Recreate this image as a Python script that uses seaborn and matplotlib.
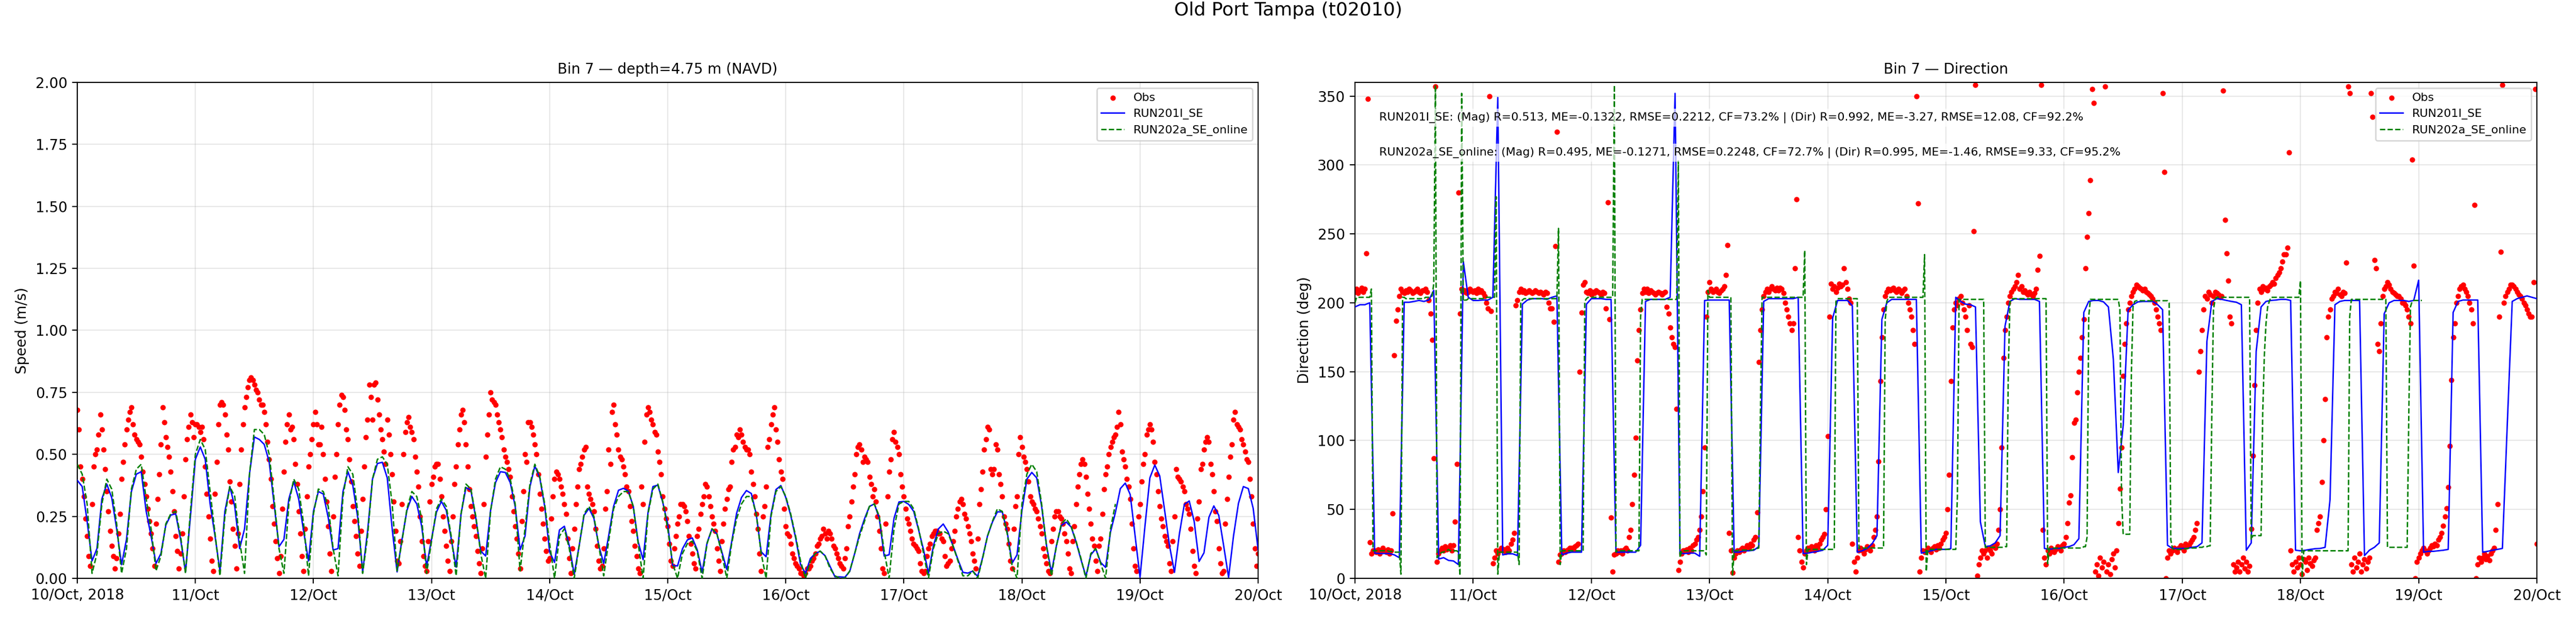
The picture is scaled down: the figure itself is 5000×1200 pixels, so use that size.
import numpy as np
import pandas as pd
import matplotlib
matplotlib.use("Agg")
import matplotlib.pyplot as plt
import seaborn as sns

# ---------------- data ----------------
START = "2018-10-10 00:00"
TICK_LABELS = ["10/Oct, 2018", "11/Oct", "12/Oct", "13/Oct", "14/Oct", "15/Oct",
               "16/Oct", "17/Oct", "18/Oct", "19/Oct", "20/Oct"]

# observed speed (m/s), every 20 minutes
OBS_SPEED = [
    0.68, 0.60, 0.45, 0.40, 0.33, 0.24, 0.17, 0.09, 0.05, 0.30,
    0.45, 0.50, 0.52, 0.58, 0.66, 0.60, 0.52, 0.44, 0.35, 0.27,
    0.19, 0.13, 0.09, 0.04, 0.08, 0.18, 0.26, 0.40, 0.47, 0.54,
    0.60, 0.64, 0.67, 0.69, 0.62, 0.58, 0.56, 0.55, 0.54, 0.49,
    0.43, 0.38, 0.33, 0.28, 0.23, 0.18, 0.12, 0.05, 0.22, 0.32,
    0.42, 0.54, 0.69, 0.63, 0.57, 0.53, 0.49, 0.43, 0.35, 0.27,
    0.17, 0.11, 0.04, 0.10, 0.18, 0.33, 0.48, 0.56, 0.61, 0.66,
    0.63, 0.57, 0.62, 0.62, 0.61, 0.59, 0.61, 0.56, 0.45, 0.34,
    0.25, 0.16, 0.07, 0.03, 0.34, 0.47, 0.62, 0.70, 0.71, 0.70,
    0.66, 0.58, 0.52, 0.39, 0.31, 0.20, 0.13, 0.04, 0.18, 0.38,
    0.52, 0.62, 0.69, 0.73, 0.77, 0.80, 0.81, 0.80, 0.78, 0.76,
    0.75, 0.72, 0.70, 0.70, 0.67, 0.62, 0.55, 0.48, 0.40, 0.29,
    0.22, 0.15, 0.08, 0.02, 0.09, 0.28, 0.43, 0.55, 0.62, 0.66,
    0.60, 0.61, 0.56, 0.46, 0.38, 0.27, 0.18, 0.09, 0.03, 0.20,
    0.33, 0.45, 0.50, 0.56, 0.62, 0.67, 0.62, 0.54, 0.54, 0.61,
    0.50, 0.40, 0.31, 0.21, 0.10, 0.03, 0.25, 0.41, 0.50, 0.62,
    0.70, 0.74, 0.73, 0.68, 0.60, 0.56, 0.48, 0.39, 0.29, 0.23,
    0.17, 0.10, 0.05, 0.19, 0.32, 0.45, 0.57, 0.64, 0.78, 0.73,
    0.64, 0.78, 0.79, 0.72, 0.66, 0.60, 0.56, 0.51, 0.46, 0.64,
    0.58, 0.50, 0.42, 0.31, 0.19, 0.07, 0.06, 0.15, 0.30, 0.50,
    0.59, 0.63, 0.65, 0.61, 0.59, 0.56, 0.49, 0.43, 0.37, 0.25,
    0.15, 0.09, 0.05, 0.03, 0.15, 0.31, 0.38, 0.41, 0.45, 0.46,
    0.46, 0.40, 0.33, 0.25, 0.19, 0.13, 0.07, 0.03, 0.15, 0.25,
    0.38, 0.45, 0.54, 0.60, 0.66, 0.68, 0.63, 0.54, 0.45, 0.36,
    0.29, 0.25, 0.21, 0.17, 0.11, 0.06, 0.02, 0.12, 0.30, 0.49,
    0.58, 0.66, 0.75, 0.72, 0.71, 0.70, 0.66, 0.63, 0.60, 0.57,
    0.52, 0.49, 0.47, 0.44, 0.41, 0.33, 0.27, 0.21, 0.16, 0.10,
    0.04, 0.23, 0.35, 0.50, 0.47, 0.63, 0.63, 0.61, 0.58, 0.54,
    0.50, 0.42, 0.34, 0.28, 0.22, 0.16, 0.11, 0.07, 0.08, 0.24,
    0.33, 0.40, 0.43, 0.42, 0.40, 0.37, 0.34, 0.30, 0.26, 0.16,
    0.08, 0.02, 0.12, 0.20, 0.30, 0.37, 0.44, 0.46, 0.49, 0.52,
    0.53, 0.37, 0.34, 0.32, 0.30, 0.27, 0.20, 0.13, 0.07, 0.04,
    0.05, 0.12, 0.28, 0.35, 0.52, 0.46, 0.67, 0.70, 0.62, 0.58,
    0.52, 0.49, 0.48, 0.45, 0.42, 0.37, 0.35, 0.29, 0.23, 0.19,
    0.13, 0.09, 0.04, 0.02, 0.37, 0.30, 0.55, 0.66, 0.69, 0.67,
    0.64, 0.62, 0.59, 0.58, 0.51, 0.47, 0.42, 0.33, 0.28, 0.24,
    0.21, 0.14, 0.07, 0.05, 0.12, 0.17, 0.22, 0.25, 0.30, 0.30,
    0.29, 0.27, 0.23, 0.17, 0.14, 0.10, 0.06, 0.04, 0.17, 0.20,
    0.26, 0.30, 0.33, 0.38, 0.37, 0.33, 0.29, 0.25, 0.22, 0.19,
    0.12, 0.07, 0.03, 0.15, 0.22, 0.28, 0.32, 0.36, 0.37, 0.47,
    0.52, 0.53, 0.58, 0.57, 0.60, 0.58, 0.55, 0.53, 0.52, 0.52,
    0.50, 0.43, 0.38, 0.33, 0.26, 0.20, 0.10, 0.03, 0.25, 0.29,
    0.37, 0.53, 0.56, 0.62, 0.66, 0.69, 0.60, 0.55, 0.48, 0.43,
    0.40, 0.28, 0.21, 0.18, 0.17, 0.14, 0.10, 0.08, 0.06, 0.05,
    0.04, 0.02, 0.02, 0.01, 0.02, 0.04, 0.04, 0.05, 0.07, 0.08,
    0.10, 0.13, 0.14, 0.16, 0.17, 0.20, 0.18, 0.16, 0.19, 0.18,
    0.16, 0.13, 0.12, 0.10, 0.08, 0.06, 0.05, 0.04, 0.08, 0.12,
    0.21, 0.25, 0.31, 0.37, 0.42, 0.50, 0.53, 0.54, 0.52, 0.47,
    0.49, 0.48, 0.47, 0.41, 0.38, 0.33, 0.36, 0.31, 0.25, 0.19,
    0.12, 0.04, 0.02, 0.22, 0.33, 0.43, 0.48, 0.56, 0.59, 0.55,
    0.53, 0.50, 0.42, 0.37, 0.33, 0.28, 0.24, 0.22, 0.19, 0.16,
    0.14, 0.13, 0.12, 0.11, 0.06, 0.03, 0.02, 0.03, 0.09, 0.12,
    0.14, 0.17, 0.18, 0.19, 0.19, 0.18, 0.18, 0.16, 0.15, 0.09,
    0.05, 0.06, 0.07, 0.12, 0.15, 0.19, 0.25, 0.28, 0.31, 0.32,
    0.30, 0.26, 0.24, 0.21, 0.18, 0.15, 0.10, 0.07, 0.04, 0.16,
    0.30, 0.36, 0.43, 0.52, 0.56, 0.61, 0.60, 0.44, 0.42, 0.44,
    0.54, 0.52, 0.42, 0.38, 0.33, 0.25, 0.22, 0.20, 0.14, 0.07,
    0.04, 0.20, 0.29, 0.33, 0.50, 0.57, 0.53, 0.49, 0.47, 0.44,
    0.39, 0.33, 0.31, 0.30, 0.28, 0.27, 0.24, 0.21, 0.18, 0.12,
    0.09, 0.06, 0.03, 0.02, 0.15, 0.20, 0.25, 0.27, 0.27, 0.25,
    0.24, 0.22, 0.18, 0.15, 0.10, 0.04, 0.02, 0.15, 0.21, 0.30,
    0.37, 0.42, 0.46, 0.48, 0.46, 0.41, 0.34, 0.28, 0.22, 0.16,
    0.13, 0.07, 0.03, 0.13, 0.16, 0.26, 0.36, 0.42, 0.45, 0.50,
    0.53, 0.55, 0.57, 0.58, 0.61, 0.67, 0.62, 0.51, 0.48, 0.45,
    0.40, 0.37, 0.32, 0.22, 0.12, 0.05, 0.03, 0.25, 0.30, 0.39,
    0.46, 0.50, 0.58, 0.60, 0.62, 0.60, 0.55, 0.47, 0.42, 0.35,
    0.29, 0.24, 0.21, 0.17, 0.15, 0.13, 0.06, 0.03, 0.15, 0.25,
    0.44, 0.41, 0.40, 0.39, 0.37, 0.35, 0.30, 0.28, 0.26, 0.20,
    0.11, 0.05, 0.02, 0.24, 0.31, 0.44, 0.46, 0.52, 0.55, 0.57,
    0.55, 0.46, 0.42, 0.35, 0.27, 0.23, 0.12, 0.06, 0.02, 0.03,
    0.22, 0.32, 0.41, 0.49, 0.54, 0.64, 0.67, 0.62, 0.61, 0.60,
    0.56, 0.54, 0.51, 0.48, 0.47, 0.40, 0.33, 0.22, 0.12, 0.05,
    0.10,
]

# RUN201I_SE speed (m/s), hourly
RUN201_SPEED = [
    0.395, 0.37, 0.23, 0.07, 0.12, 0.32, 0.38, 0.325, 0.20, 0.055,
    0.157, 0.35, 0.42, 0.43, 0.27, 0.17, 0.06, 0.10, 0.215, 0.255,
    0.26, 0.157, 0.026, 0.25, 0.48, 0.53, 0.48, 0.30, 0.17, 0.03,
    0.27, 0.37, 0.29, 0.12, 0.20, 0.42, 0.57, 0.56, 0.54, 0.47,
    0.30, 0.128, 0.157, 0.32, 0.39, 0.32, 0.19, 0.07, 0.27, 0.35,
    0.34, 0.245, 0.114, 0.12, 0.35, 0.43, 0.375, 0.245, 0.026, 0.19,
    0.40, 0.463, 0.468, 0.405, 0.20, 0.026, 0.157, 0.274, 0.33, 0.30,
    0.21, 0.048, 0.157, 0.267, 0.31, 0.274, 0.16, 0.045, 0.26, 0.366,
    0.355, 0.242, 0.11, 0.09, 0.274, 0.386, 0.43, 0.427, 0.386, 0.29,
    0.115, 0.17, 0.37, 0.453, 0.405, 0.29, 0.107, 0.064, 0.195, 0.21,
    0.131, 0.016, 0.131, 0.254, 0.282, 0.242, 0.131, 0.06, 0.171, 0.29,
    0.355, 0.363, 0.352, 0.29, 0.147, 0.075, 0.266, 0.37, 0.376, 0.306,
    0.219, 0.052, 0.05, 0.119, 0.155, 0.163, 0.115, 0.024, 0.143, 0.199,
    0.179, 0.107, 0.036, 0.147, 0.262, 0.326, 0.354, 0.342, 0.258, 0.107,
    0.087, 0.258, 0.358, 0.374, 0.326, 0.254, 0.163, 0.056, 0.02, 0.08,
    0.10, 0.109, 0.091, 0.048, 0.006, 0.006, 0.004, 0.028, 0.10, 0.18,
    0.24, 0.29, 0.30, 0.242, 0.09, 0.095, 0.242, 0.308, 0.31, 0.298,
    0.27, 0.195, 0.115, 0.02, 0.131, 0.199, 0.219, 0.187, 0.131, 0.075,
    0.024, 0.021, 0.029, 0.008, 0.083, 0.171, 0.227, 0.268, 0.268, 0.187,
    0.061, 0.095, 0.274, 0.40, 0.427, 0.405, 0.29, 0.131, 0.024, 0.131,
    0.213, 0.227, 0.207, 0.147, 0.075, 0.008, 0.095, 0.119, 0.064, 0.044,
    0.187, 0.266, 0.362, 0.384, 0.338, 0.171, 0.004, 0.21, 0.405, 0.457,
    0.413, 0.274, 0.131, 0.024, 0.179, 0.298, 0.312, 0.23, 0.068, 0.103,
    0.246, 0.292, 0.254, 0.131, 0.004, 0.171, 0.302, 0.37, 0.362, 0.282,
    0.115,
]

# RUN202a_SE_online speed (m/s), hourly (series ends on 18 Oct)
RUN202_SPEED = [
    0.46, 0.42, 0.30, 0.02, 0.10, 0.30, 0.40, 0.36, 0.22, 0.02,
    0.12, 0.36, 0.44, 0.46, 0.32, 0.20, 0.03, 0.09, 0.22, 0.26,
    0.27, 0.17, 0.02, 0.27, 0.50, 0.56, 0.52, 0.35, 0.18, 0.01,
    0.25, 0.37, 0.33, 0.15, 0.02, 0.42, 0.60, 0.60, 0.58, 0.50,
    0.32, 0.12, 0.02, 0.30, 0.40, 0.36, 0.22, 0.01, 0.26, 0.36,
    0.35, 0.29, 0.12, 0.01, 0.33, 0.45, 0.42, 0.27, 0.02, 0.17,
    0.40, 0.48, 0.49, 0.46, 0.30, 0.03, 0.15, 0.28, 0.35, 0.33,
    0.24, 0.02, 0.15, 0.28, 0.32, 0.29, 0.17, 0.01, 0.26, 0.38,
    0.36, 0.25, 0.10, 0.00, 0.27, 0.40, 0.45, 0.44, 0.40, 0.30,
    0.03, 0.20, 0.38, 0.46, 0.41, 0.30, 0.14, 0.00, 0.17, 0.20,
    0.12, 0.00, 0.13, 0.26, 0.29, 0.25, 0.13, 0.01, 0.15, 0.28,
    0.33, 0.35, 0.35, 0.29, 0.14, 0.00, 0.26, 0.36, 0.38, 0.31,
    0.20, 0.06, 0.00, 0.10, 0.14, 0.15, 0.11, 0.00, 0.14, 0.20,
    0.18, 0.10, 0.00, 0.14, 0.24, 0.30, 0.33, 0.33, 0.26, 0.10,
    0.00, 0.25, 0.35, 0.37, 0.33, 0.26, 0.17, 0.07, 0.00, 0.07,
    0.10, 0.11, 0.09, 0.04, 0.01, 0.00, 0.00, 0.03, 0.10, 0.17,
    0.23, 0.29, 0.30, 0.25, 0.11, 0.00, 0.20, 0.30, 0.31, 0.31,
    0.28, 0.20, 0.10, 0.00, 0.12, 0.18, 0.19, 0.18, 0.13, 0.07,
    0.01, 0.01, 0.03, 0.00, 0.08, 0.17, 0.23, 0.28, 0.27, 0.18,
    0.05, 0.00, 0.30, 0.42, 0.46, 0.43, 0.30, 0.13, 0.01, 0.13,
    0.22, 0.24, 0.21, 0.15, 0.08, 0.00, 0.10, 0.12, 0.06, 0.00,
    0.20, 0.30,
]

# observed direction (deg), every 20 minutes
OBS_DIR = [
    208, 210, 207, 209, 211, 208, 210, 236, 348, 26, 18, 20,
    20, 19, 21, 18, 20, 22, 20, 19, 21, 18, 20, 47,
    162, 187, 195, 205, 210, 208, 207, 209, 208, 210, 209, 207,
    208, 209, 210, 208, 207, 209, 209, 210, 208, 202, 192, 173,
    87, 357, 12, 18, 20, 22, 20, 23, 21, 22, 24, 20,
    24, 41, 83, 280, 192, 210, 208, 209, 207, 208, 210, 209,
    208, 209, 207, 210, 208, 209, 207, 205, 200, 196, 350, 194,
    11, 15, 20, 18, 20, 22, 20, 21, 19, 22, 20, 25,
    28, 33, 198, 202, 208, 210, 208, 209, 207, 208, 209, 208,
    207, 208, 209, 208, 207, 208, 207, 206, 208, 207, 200, 196,
    196, 186, 241, 324, 12, 17, 18, 20, 19, 20, 21, 22,
    22, 21, 23, 24, 25, 150, 193, 213, 215, 208, 207, 209,
    206, 208, 207, 209, 208, 207, 206, 208, 207, 196, 273, 188,
    44, 5, 17, 18, 20, 19, 20, 18, 21, 22, 20, 30,
    35, 54, 75, 102, 158, 180, 195, 207, 210, 208, 210, 207,
    209, 208, 207, 206, 207, 208, 207, 206, 207, 208, 197, 192,
    182, 175, 170, 168, 123, 6, 12, 18, 20, 20, 21, 19,
    22, 20, 24, 25, 28, 30, 35, 45, 63, 95, 190, 208,
    215, 210, 208, 209, 210, 208, 207, 209, 210, 212, 220, 242,
    33, 20, 4, 15, 18, 20, 19, 21, 22, 20, 22, 24,
    22, 25, 24, 28, 30, 48, 157, 180, 195, 205, 208, 210,
    208, 210, 212, 210, 209, 211, 209, 211, 210, 207, 200, 195,
    190, 185, 180, 185, 225, 275, 30, 20, 12, 8, 18, 20,
    22, 21, 23, 22, 20, 24, 22, 25, 28, 30, 32, 50,
    103, 190, 214, 210, 212, 208, 211, 214, 212, 213, 225, 215,
    210, 203, 200, 25, 12, 5, 15, 20, 22, 20, 18, 21,
    23, 22, 20, 24, 30, 35, 45, 85, 143, 175, 195, 205,
    208, 210, 209, 210, 211, 209, 208, 210, 209, 207, 209, 210,
    205, 200, 195, 190, 180, 170, 350, 272, 5, 15, 20, 19,
    20, 22, 21, 19, 22, 23, 21, 24, 22, 25, 28, 30,
    33, 50, 75, 143, 182, 195, 200, 198, 203, 205, 200, 195,
    190, 180, 198, 170, 168, 252, 358, 2, 10, 15, 20, 18,
    20, 15, 22, 20, 18, 23, 22, 25, 35, 50, 95, 160,
    180, 190, 200, 205, 208, 210, 212, 215, 220, 210, 212, 208,
    209, 207, 206, 208, 206, 205, 207, 210, 224, 234, 358, 35,
    15, 10, 20, 18, 22, 20, 19, 21, 23, 22, 20, 24,
    25, 30, 40, 55, 60, 88, 113, 115, 135, 150, 160, 175,
    188, 225, 248, 265, 289, 355, 345, 5, 10, 2, 15, 8,
    12, 357, 5, 10, 3, 14, 18, 8, 20, 40, 65, 95,
    147, 170, 185, 195, 200, 205, 208, 210, 213, 212, 211, 210,
    209, 210, 208, 207, 206, 205, 203, 200, 195, 190, 185, 180,
    352, 295, 0, 15, 20, 18, 20, 22, 21, 19, 22, 24,
    22, 20, 25, 23, 24, 26, 28, 30, 35, 40, 150, 165,
    180, 195, 205, 203, 208, 206, 200, 205, 208, 207, 206, 204,
    205, 354, 260, 236, 216, 190, 185, 10, 5, 8, 12, 5,
    10, 15, 7, 12, 5, 9, 36, 89, 140, 180, 200, 210,
    208, 212, 210, 211, 209, 212, 213, 215, 214, 218, 220, 222,
    225, 230, 235, 235, 240, 309, 20, 10, 5, 12, 8, 15,
    10, 3, 14, 12, 6, 15, 11, 9, 13, 15, 35, 40,
    45, 70, 100, 130, 175, 190, 195, 203, 205, 208, 207, 210,
    206, 205, 208, 207, 229, 357, 352, 10, 5, 15, 8, 12,
    18, 5, 10, 14, 7, 12, 15, 352, 335, 231, 225, 170,
    165, 185, 205, 210, 212, 215, 213, 210, 208, 207, 206, 205,
    205, 203, 200, 200, 198, 195, 190, 185, 304, 227, 0, 12,
    15, 18, 20, 22, 20, 18, 20, 22, 24, 23, 25, 24,
    28, 30, 33, 38, 45, 51, 66, 96, 144, 175, 185, 200,
    205, 210, 212, 213, 210, 208, 205, 200, 195, 185, 271, 0,
    10, 15, 12, 15, 18, 14, 16, 13, 18, 20, 22, 35,
    54, 190, 237, 358, 200, 205, 208, 210, 213, 213, 212, 210,
    208, 206, 205, 203, 200, 198, 195, 192, 190, 190, 215, 355,
    25,
]

# RUN201I_SE direction (deg), hourly
RUN201_DIR = [
    197, 198.6, 198.6, 200, 18.3, 18, 18, 18, 17, 15,
    200.4, 200.4, 201, 201.7, 201, 202, 209, 14, 15, 13,
    12.6, 10, 230, 204, 201.7, 201.7, 202, 202, 204, 349,
    17, 17.8, 17.8, 16.5, 199, 202, 203, 203, 203, 202.5,
    204, 205, 17, 18.3, 19, 19, 19, 199, 203, 203,
    203, 202.5, 202.5, 19, 19, 19, 19, 19, 24, 201,
    202.5, 202.5, 202.5, 202.5, 204, 352, 18, 18, 18.3, 18.3,
    16, 201.7, 202, 202, 202, 202, 202, 19, 19, 20,
    20, 20.4, 23, 201, 203, 203, 203, 203, 203, 203,
    204, 18, 18.3, 19, 19.6, 20.4, 24, 189, 201.7, 201.7,
    201.7, 197.8, 19, 20, 21.7, 25, 31, 188, 200, 202.5,
    202.5, 202.5, 202.5, 202.5, 202.5, 18.3, 19, 20, 21, 21,
    21, 21.5, 204, 201, 199, 198.6, 197, 41, 23, 23.6,
    25.7, 31, 183, 201, 203, 202.5, 202.5, 202.5, 202.5, 201,
    21.7, 21, 21.7, 21.7, 22.5, 23, 24.4, 28.8, 193, 201,
    201.7, 201.7, 200.7, 197, 159, 76.8, 111, 194.7, 198.6, 200.7,
    201, 201, 201, 198.6, 195, 24, 21.7, 21.7, 21.7, 21.7,
    22.5, 23, 25.7, 172, 201, 203, 202.5, 201.7, 201, 200.4,
    198.6, 20.4, 25.7, 164.5, 197, 201, 201.7, 202, 202.5, 202.5,
    201.7, 20.4, 20, 20.4, 21, 21.5, 21.7, 22.5, 57, 198.6,
    201, 201.7, 201.7, 201.7, 201.7, 16.5, 20.4, 22.5, 25.7, 192,
    200, 201.7, 201.7, 201.7, 201, 201.7, 216.4, 19, 19.6, 19.6,
    20, 20.4, 21, 193, 201, 202, 202, 202, 202, 19,
    19.6, 20.4, 21, 21.7, 112, 201, 203, 204, 205, 204,
    203,
]

# RUN202a_SE_online direction (deg), every 20 minutes (series ends on 18 Oct)
RUN202_DIR = [
    200, 204, 204, 204, 204, 204, 204, 204, 204, 204, 210, 20,
    20, 20, 20, 20, 20, 20, 20, 20, 20, 19.5, 19.5, 19.5,
    19, 19, 19, 19, 3, 204, 204, 203, 203, 203, 203, 203,
    203, 203, 203, 203, 203, 203, 203, 204, 204, 204, 204, 205,
    214, 358, 15, 17, 18, 19, 19, 20, 20, 21, 20, 20,
    20, 20, 20, 19, 2, 352, 201, 202, 202, 203, 203, 203,
    203, 203, 203, 203, 203, 203, 203, 204, 204, 204, 204, 204,
    204, 204, 277, 3, 19, 19, 19, 19, 19, 19, 19, 19,
    19, 19, 19, 19, 10, 201, 202, 203, 203, 203, 203, 203,
    203, 203, 203, 203, 203, 203, 203, 203, 203, 203, 203, 203,
    203, 203, 203, 203, 254, 10, 20, 20, 20, 20, 20, 20,
    20, 20, 20, 20, 20, 20, 20, 20, 201, 203, 204, 204,
    204, 204, 204, 204, 204, 204, 204, 204, 204, 204, 204, 204,
    204, 204, 358, 19, 20, 20, 20, 20, 20, 20, 20, 20,
    20, 20, 20, 20, 20, 20, 190, 202.5, 202.5, 202.5, 202.5, 202.5,
    202.5, 202.5, 202.5, 202.5, 202.5, 202.5, 202.5, 202.5, 202.5, 202.5, 202.5, 202.5,
    202.5, 202.5, 202.5, 202.5, 202.5, 303, 15, 20, 20, 20, 20, 20,
    20, 20, 20, 20, 20, 20, 20, 20, 20, 20, 17, 209,
    204, 204, 204, 204, 204, 204, 204, 204, 204, 204, 204, 204,
    204, 204, 2, 20, 20, 20, 20.5, 20.5, 20.5, 20.5, 20.5, 20.5,
    20.5, 20.5, 20.5, 21, 21.5, 21.7, 22, 120, 204, 204, 204, 204,
    204, 204, 204, 204, 204, 204, 204, 204, 204, 204, 204, 204,
    204, 204, 204, 204, 204, 204, 204, 204, 204, 204, 238, 10,
    21, 21, 21, 21, 21, 21, 21, 21, 21, 21, 21, 21,
    21, 21, 21, 21, 21, 201, 203, 203, 203, 203, 203, 203,
    203, 203, 203, 203, 203, 203, 203, 21.7, 21.7, 22, 22, 22,
    22, 22, 22, 22, 22, 22, 22, 22, 22, 22, 22, 187,
    201, 204, 204, 204, 204, 204, 204, 204, 204, 204, 204, 204,
    204, 204, 204, 204, 204, 204, 204, 204, 204, 204, 204, 235,
    5, 21, 21, 21, 21, 21, 21, 21, 21, 21, 21, 21,
    21, 21, 21, 21, 21, 21, 21, 60, 202.5, 202.5, 202.5, 202.5,
    202.5, 202.5, 202.5, 202.5, 202.5, 202.5, 202.5, 202.5, 202.5, 202.5, 202.5, 202.5,
    22.5, 22.5, 22.5, 22.5, 22.5, 22.5, 22.5, 22.5, 22.5, 22.5, 22.5, 22.5,
    23, 23, 150, 200, 203, 203, 203, 203, 203, 203, 203, 203,
    203, 203, 203, 203, 203, 203, 203, 203, 203, 203, 203, 203,
    203, 203, 10.5, 21.7, 21.7, 21.7, 22, 22, 22, 22, 22, 22,
    22, 22, 22, 22, 22, 22, 22, 22, 22, 22, 22, 22,
    23, 23, 30, 190, 202.5, 202.5, 202.5, 202.5, 202.5, 202.5, 202.5, 202.5,
    202.5, 202.5, 202.5, 202.5, 202.5, 202.5, 202.5, 202.5, 202.5, 202.5, 195, 60,
    32, 32, 32, 32, 32, 150, 197, 201, 201.5, 201.5, 201.5, 201.5,
    201.5, 201.5, 201.5, 201.5, 201.5, 201.5, 201.5, 201.5, 201.5, 201.5, 201.5, 201.5,
    201.5, 201.5, 201.5, 201.5, 200, 28, 21.7, 21, 21, 21, 21, 21,
    21, 21.5, 21.5, 21.5, 22, 22, 22, 22, 22, 22, 22.5, 22.5,
    22.5, 23, 23, 23, 23.5, 23.6, 120, 195, 202.5, 204, 204, 204,
    204, 204, 204, 204, 204, 204, 204, 204, 204, 204, 204, 204,
    204, 204, 204, 204, 204, 204, 28, 31, 31, 31, 31, 31,
    31, 120, 162, 185, 197, 201, 204, 204, 204, 204, 204, 204,
    204, 204, 204, 204, 204, 204, 204, 204, 204, 204, 204, 204,
    216, 0.5, 20, 20, 20, 20, 20, 20, 20, 20, 20, 20,
    20, 20, 20, 20, 20, 20, 20, 20, 20, 20, 20, 20,
    20, 20, 20, 20, 20, 20, 190, 202.5, 202.5, 202.5, 202.5, 202.5,
    202.5, 202.5, 202.5, 202.5, 202.5, 202.5, 202.5, 202.5, 202.5, 202.5, 202.5, 202.5,
    202.5, 202.5, 202.5, 202.5, 202.5, 22.5, 22.5, 22.5, 22.5, 22.5, 22.5, 22.5,
    22.5, 22.5, 22.5, 22.5, 22.5, 22.5, 120, 197, 201, 201.7, 201.7, 201.7,
    201.7, 201.7, 201.7,
]

LINE1 = ("RUN201I_SE: (Mag) R=0.513, ME=-0.1322, RMSE=0.2212, CF=73.2% | "
         "(Dir) R=0.992, ME=-3.27, RMSE=12.08, CF=92.2%")
LINE2 = ("RUN202a_SE_online: (Mag) R=0.495, ME=-0.1271, RMSE=0.2248, CF=72.7% | "
         "(Dir) R=0.995, ME=-1.46, RMSE=9.33, CF=95.2%")

# ---------------- frames ----------------
t_obs_s = pd.date_range(START, periods=len(OBS_SPEED), freq="20min")
t_obs_d = pd.date_range(START, periods=len(OBS_DIR), freq="20min")
t_r1_s = pd.date_range(START, periods=len(RUN201_SPEED), freq="h")
t_r2_s = pd.date_range(START, periods=len(RUN202_SPEED), freq="h")
t_r1_d = pd.date_range(START, periods=len(RUN201_DIR), freq="h")
t_r2_d = pd.date_range(START, periods=len(RUN202_DIR), freq="20min")

obs_s = pd.DataFrame({"time": t_obs_s, "val": OBS_SPEED})
obs_d = pd.DataFrame({"time": t_obs_d, "val": OBS_DIR})
r1_s = pd.DataFrame({"time": t_r1_s, "val": RUN201_SPEED})
r2_s = pd.DataFrame({"time": t_r2_s, "val": RUN202_SPEED})
r1_d = pd.DataFrame({"time": t_r1_d, "val": RUN201_DIR})
r2_d = pd.DataFrame({"time": t_r2_d, "val": RUN202_DIR})

# ---------------- figure ----------------
plt.rcParams["font.family"] = ["DejaVu Sans"]
fig = plt.figure(figsize=(25, 6), dpi=200)
ax1 = fig.add_axes([0.030, 0.0642, 0.4584, 0.8025])
ax2 = fig.add_axes([0.526, 0.0642, 0.4588, 0.8025])

def draw(ax, obs, r1, r2):
    sns.scatterplot(data=obs, x="time", y="val", ax=ax, color="red", s=14,
                    linewidth=0, label="Obs", zorder=2)
    sns.lineplot(data=r1, x="time", y="val", ax=ax, color="blue", linewidth=1.0,
                 estimator=None, label="RUN201I_SE", zorder=3)
    sns.lineplot(data=r2, x="time", y="val", ax=ax, color="green", linewidth=1.0,
                 linestyle="--", estimator=None, label="RUN202a_SE_online", zorder=3)
    ticks = pd.date_range(START, periods=len(TICK_LABELS), freq="D")
    ax.set_xlim(ticks[0], ticks[-1])
    ax.set_xticks(ticks)
    ax.set_xticklabels(TICK_LABELS)
    ax.grid(True, alpha=0.3)
    ax.set_xlabel("")
    ax.tick_params(labelsize=10)
    ax.legend(loc="upper right", fontsize=8)

draw(ax1, obs_s, r1_s, r2_s)
ax1.set_ylim(0, 2.0)
ax1.set_yticks(np.arange(0, 2.01, 0.25))
ax1.set_yticklabels([f"{v:.2f}" for v in np.arange(0, 2.01, 0.25)])
ax1.set_ylabel("Speed (m/s)", fontsize=10)
ax1.set_title("Bin 7 \u2014 depth=4.75 m (NAVD)", fontsize=10)

draw(ax2, obs_d, r1_d, r2_d)
ax2.set_ylim(0, 360)
ax2.set_yticks(np.arange(0, 351, 50))
ax2.set_ylabel("Direction (deg)", fontsize=10)
ax2.set_title("Bin 7 \u2014 Direction", fontsize=10)

box = dict(boxstyle="square,pad=0.3", facecolor="white", alpha=0.7, edgecolor="none")
ax2.text(0.0205, 0.929, LINE1, transform=ax2.transAxes, fontsize=8,
         ha="left", va="center", bbox=box, zorder=4)
ax2.text(0.0205, 0.858, LINE2, transform=ax2.transAxes, fontsize=8,
         ha="left", va="center", bbox=box, zorder=4)

fig.suptitle("Old Port Tampa (t02010)", fontsize=13, y=0.983, va="center")

fig.savefig("out.png", dpi=200)
